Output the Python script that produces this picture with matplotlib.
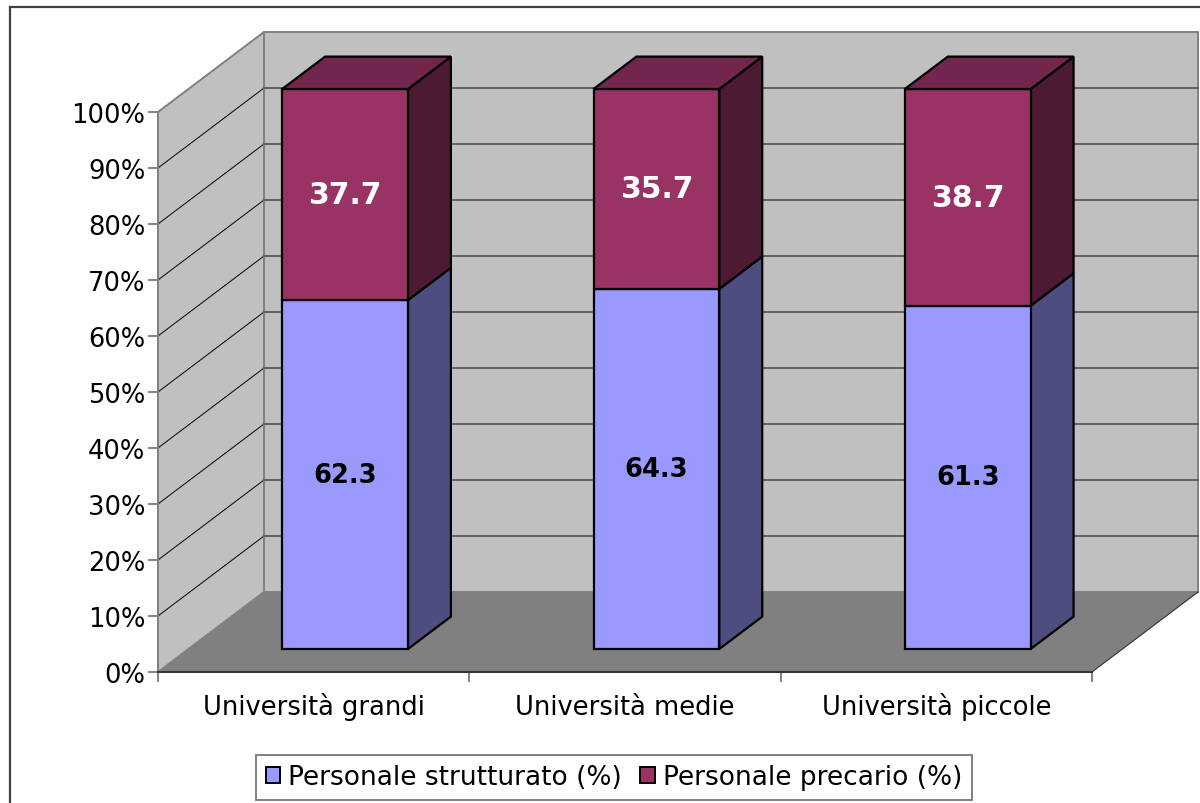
import matplotlib
matplotlib.use("Agg")
import matplotlib.pyplot as plt
from matplotlib.lines import Line2D
from matplotlib.patches import Patch, Polygon

categories = ["Università grandi", "Università medie", "Università piccole"]
strutturato = [62.3, 64.3, 61.3]
precario = [37.7, 35.7, 38.7]
series_names = ["Personale strutturato (%)", "Personale precario (%)"]
y_ticks = [0, 10, 20, 30, 40, 50, 60, 70, 80, 90, 100]

W, H = 1200, 804
fig = plt.figure(figsize=(W / 100, H / 100), dpi=100, facecolor="white")
plt.rcParams["font.family"] = ["DejaVu Sans"]

# axes = front plane of the old spreadsheet style 3d box
L, R, T, B = 158, 1092, 113, 673
ax = fig.add_axes([L / W, 1 - B / H, (R - L) / W, (B - T) / H])
ax.set_xlim(0, 3)
ax.set_ylim(0, 100)
ax.patch.set_visible(False)

# depth of the box, in data units per unit of z
dx = 106 / ((R - L) / 3)
dy = 80 / ((B - T) / 100)


def pr(x, y, z):
    return (x + z * dx, y + z * dy)


def face(pts, fc, ec, lw, zorder):
    ax.add_patch(Polygon(pts, closed=True, facecolor=fc, edgecolor=ec, linewidth=lw,
                         joinstyle="miter", clip_on=False, zorder=zorder))


WALL = "#c0c0c0"
GREY = "#808080"
face([pr(0, 0, 0), pr(0, 100, 0), pr(0, 100, 1), pr(0, 0, 1)], WALL, GREY, 1.4, 1)
face([pr(0, 0, 1), pr(0, 100, 1), pr(3, 100, 1), pr(3, 0, 1)], WALL, GREY, 1.4, 1)
face([pr(0, 0, 0), pr(3, 0, 0), pr(3, 0, 1), pr(0, 0, 1)], GREY, "none", 0, 1.5)
ax.plot(*zip(pr(3, 0, 0), pr(3, 0, 1)), color="#303030", lw=0.8, clip_on=False, zorder=1.6)

for v in y_ticks[1:-1]:
    ax.plot(*zip(pr(0, v, 0), pr(0, v, 1)), color="black", lw=0.7, clip_on=False, zorder=2)
    ax.plot(*zip(pr(0, v, 1), pr(3, v, 1)), color="#606060", lw=1.4, clip_on=False, zorder=2)

# bars
z0, z1 = 0.2875, 0.6925
bar_w = 0.404
bar_shift = 0.003
colors = [("#9999ff", "#4d4d80", "#73738f"), ("#993366", "#4d1a33", "#73264d")]
for i in range(len(categories)):
    x0 = i + 0.5 + bar_shift - bar_w / 2
    x1 = x0 + bar_w
    bottom = 0
    for vals, (front, side, top), tc, fs in zip([strutturato, precario], colors,
                                                ["black", "white"], [18.5, 21.5]):
        v = vals[i]
        y0, y1 = bottom, bottom + v
        face([pr(x1, y0, z0), pr(x1, y1, z0), pr(x1, y1, z1), pr(x1, y0, z1)], side, "black", 1.6, 3)
        face([pr(x0, y0, z0), pr(x1, y0, z0), pr(x1, y1, z0), pr(x0, y1, z0)], front, "black", 1.6, 4)
        cx, cy = pr((x0 + x1) / 2, (y0 + y1) / 2, z0)
        ax.text(cx, cy, str(v), color=tc, fontsize=fs, fontweight="bold",
                ha="center", va="center", zorder=6)
        bottom = y1
    face([pr(x0, 100, z0), pr(x1, 100, z0), pr(x1, 100, z1), pr(x0, 100, z1)], colors[1][2], "black", 1.6, 5)

# axis furniture
for s in ["top", "right"]:
    ax.spines[s].set_visible(False)
ax.spines["left"].set_color(GREY)
ax.spines["left"].set_linewidth(1.4)
ax.spines["bottom"].set_color("#303030")
ax.spines["bottom"].set_linewidth(1.4)
for s in ax.spines.values():
    s.set_zorder(2.5)

ax.set_yticks(y_ticks)
ax.set_yticklabels([f"{v}%" for v in y_ticks], fontsize=18.5, color="black")
ax.set_xticks([0, 1, 2, 3])
ax.set_xticklabels([])
ax.set_xticks([0.5, 1.5, 2.5], minor=True)
ax.set_xticklabels(categories, minor=True, fontsize=18.5, color="black", va="baseline")
ax.tick_params(axis="y", length=7.2, width=1.4, color=GREY, pad=2)
ax.tick_params(axis="x", which="major", length=7.2, width=1.4, color=GREY)
ax.tick_params(axis="x", which="minor", length=0, pad=30)

handles = [Patch(facecolor=colors[0][0], edgecolor="black", linewidth=1.4),
           Patch(facecolor=colors[1][0], edgecolor="black", linewidth=1.4)]
leg = fig.legend(handles, series_names, loc="center", bbox_to_anchor=(614 / W, 1 - 778.5 / H),
                 ncol=2, fontsize=19, frameon=True, fancybox=False, framealpha=1,
                 edgecolor=GREY, handlelength=0.55, handleheight=0.55, handletextpad=0.3,
                 columnspacing=0.7, borderpad=0.36, borderaxespad=0)
leg.get_frame().set_linewidth(1.4)

# outer chart border, runs off the right and bottom of the picture
fig.add_artist(Line2D([10 / W, 10 / W], [0, 1 - 7.5 / H], color="#404040", lw=1.6))
fig.add_artist(Line2D([10 / W, 1], [1 - 7.5 / H, 1 - 7.5 / H], color="#404040", lw=1.6))

fig.savefig("out.png", dpi=100)
